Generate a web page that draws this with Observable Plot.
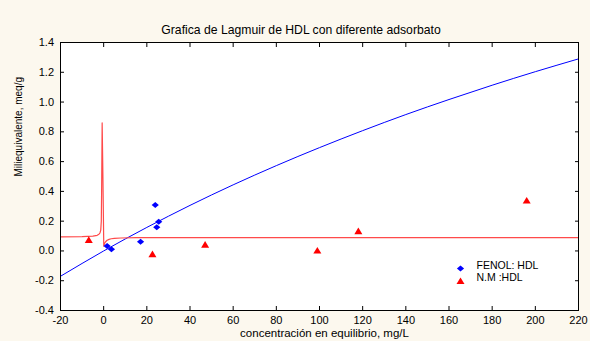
<!DOCTYPE html>
<html>
<head>
<meta charset="utf-8">
<script src="https://cdn.jsdelivr.net/npm/d3@7"></script>
<script src="https://cdn.jsdelivr.net/npm/@observablehq/plot@0.6"></script>
<style>
  html, body { margin: 0; padding: 0; background: #fcf8ee; }
  #wrap { position: relative; width: 590px; height: 341px; overflow: hidden; }
  #title { position: absolute; left: 301px; top: 23px; transform: translateX(-50%); white-space: nowrap;
           font-family: "Liberation Sans", Arial, sans-serif; font-size: 12.2px; color: #000; line-height: 14px; }
  #chart { position: absolute; left: 0; top: 36px; }
</style>
</head>
<body>
<div id="wrap">
  <div id="title">Grafica de Lagmuir de HDL con diferente adsorbato</div>
  <div id="chart"></div>
</div>
<script>
// Tick values
const xTicks = [-20, 0, 20, 40, 60, 80, 100, 120, 140, 160, 180, 200, 220];
const yTicks = [-0.4, -0.2, 0.0, 0.2, 0.4, 0.6, 0.8, 1.0, 1.2, 1.4];

// FENOL: HDL observed points
const fenolX = [1.6, 3.6, 17.1, 23.9, 24.6, 25.5];
const fenolY = [0.033, 0.011, 0.062, 0.308, 0.159, 0.196];

// N.M :HDL observed points
const nmX = [-6.9, 22.6, 47.0, 99.0, 118.0, 196.0];
const nmY = [0.074, -0.022, 0.042, 0.003, 0.133, 0.338];

// Fitted curve FENOL
const fitFenolX = [-20, 0, 20, 40, 60, 80, 100, 120, 140, 160, 180, 200, 220];
const fitFenolY = [-0.17, 0.0, 0.158, 0.306, 0.444, 0.573, 0.694, 0.808, 0.916, 1.017, 1.113, 1.204, 1.290];

// Fitted curve N.M
const fitNmX = [-20, -10, -5, -3, -2.2, -1.7, -1.35, -1.1, -0.95, -0.7, -0.35, 0.05, 0.4, 0.9, 1.6, 2.5, 3.5, 5, 8, 15, 40, 100, 220];
const fitNmY = [0.094, 0.096, 0.100, 0.105, 0.112, 0.122, 0.14, 0.2, 0.4, 0.86, 0.5, 0.032, 0.05, 0.062, 0.072, 0.078, 0.082, 0.085, 0.087, 0.089, 0.089, 0.089, 0.089];

// Text
const xLabel = "concentración en equilibrio, mg/L";
const yLabel = "Miliequivalente, meq/g";
const seriesNames = ["FENOL: HDL", "N.M :HDL"];

const fenol = fenolX.map((x, i) => ({x, y: fenolY[i]}));
const nm = nmX.map((x, i) => ({x, y: nmY[i]}));
const fitFenol = fitFenolX.map((x, i) => ({x, y: fitFenolY[i]}));
const fitNm = fitNmX.map((x, i) => ({x, y: fitNmY[i]}));

const wideDiamond = {
  draw(ctx, size) {
    ctx.moveTo(-3.6, 0); ctx.lineTo(0, -3); ctx.lineTo(3.6, 0); ctx.lineTo(0, 3); ctx.closePath();
  }
};
const tri = {
  draw(ctx, size) {
    ctx.moveTo(0, -3.6); ctx.lineTo(4, 3); ctx.lineTo(-4, 3); ctx.closePath();
  }
};

const chart = Plot.plot({
  width: 590,
  height: 305,
  marginTop: 6,
  marginBottom: 31,
  marginLeft: 60,
  marginRight: 12,
  style: {fontFamily: "'Liberation Sans', Arial, sans-serif", fontSize: "11px", background: "transparent", color: "#000"},
  x: {domain: [-20, 220], label: null},
  y: {domain: [-0.4, 1.4], label: null},
  marks: [
    Plot.frame({fill: "white", stroke: null}),
    Plot.line(fitFenol, {x: "x", y: "y", stroke: "#0000ff", strokeWidth: 1, curve: "natural", clip: true}),
    Plot.line(fitNm, {x: "x", y: "y", stroke: "#ff4a4a", strokeWidth: 1.2, curve: "linear", clip: true}),
    Plot.dot(fenol, {x: "x", y: "y", symbol: wideDiamond, fill: "#0000ff", stroke: null, r: 3}),
    Plot.dot(nm, {x: "x", y: "y", symbol: tri, fill: "#ff0000", stroke: null, r: 3}),
    // legend
    Plot.dot([seriesNames[0]], {frameAnchor: "bottom-right", dx: -118, dy: -42, symbol: wideDiamond, fill: "#0000ff", r: 3}),
    Plot.dot([seriesNames[1]], {frameAnchor: "bottom-right", dx: -118, dy: -29.5, symbol: tri, fill: "#ff0000", r: 3}),
    Plot.text([seriesNames[0]], {frameAnchor: "bottom-right", dx: -102, dy: -42, text: d => d, textAnchor: "start", fontSize: 10.5, letterSpacing: "0.5px"}),
    Plot.text([seriesNames[1]], {frameAnchor: "bottom-right", dx: -102, dy: -29.5, text: d => d, textAnchor: "start", fontSize: 10.5, letterSpacing: "0.5px"}),
    // axes
    Plot.axisX(xTicks, {anchor: "bottom", tickSize: -4, tickPadding: 10, tickFormat: d => String(d), fontSize: 11}),
    Plot.axisX(xTicks, {anchor: "top", tickSize: -4, tickFormat: () => ""}),
    Plot.axisY(yTicks, {anchor: "left", tickSize: -4, tickPadding: 10.5, tickFormat: d => d.toFixed(1), fontSize: 11}),
    Plot.axisY(yTicks, {anchor: "right", tickSize: -4, tickFormat: () => ""}),
    Plot.frame({stroke: "#000", strokeWidth: 1}),
    Plot.text([xLabel], {frameAnchor: "bottom", dx: 5, dy: 23, text: d => d, fontSize: 11.5, lineAnchor: "middle"}),
    Plot.text([yLabel], {frameAnchor: "left", dx: -42, rotate: -90, text: d => d, fontSize: 10, lineAnchor: "middle"})
  ]
});
document.getElementById("chart").appendChild(chart);
</script>
</body>
</html>
